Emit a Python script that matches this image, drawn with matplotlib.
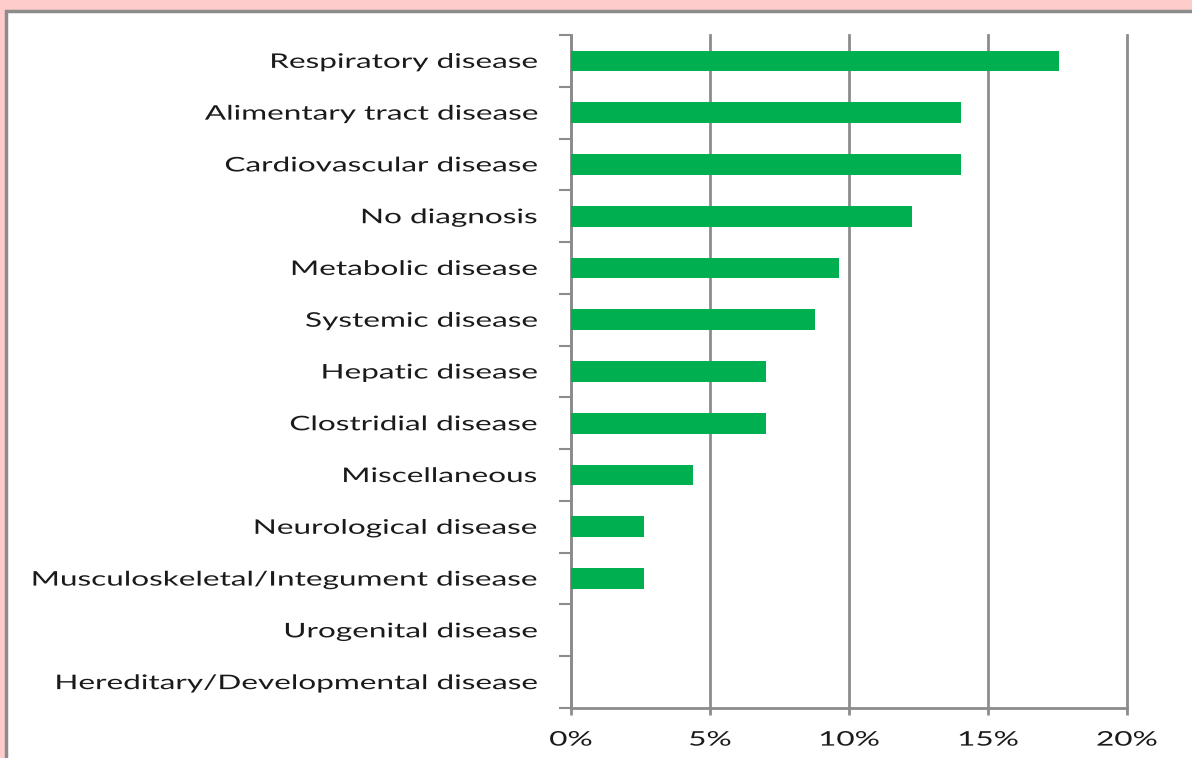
import numpy as np
import matplotlib.pyplot as plt
from matplotlib.patches import Rectangle
from matplotlib.ticker import FuncFormatter
from matplotlib.transforms import Affine2D
from matplotlib import patheffects

#-----
# Data
#-----
categories = ['Respiratory disease', 'Alimentary tract disease', 'Cardiovascular disease',
              'No diagnosis', 'Metabolic disease', 'Systemic disease', 'Hepatic disease',
              'Clostridial disease', 'Miscellaneous', 'Neurological disease',
              'Musculoskeletal/Integument disease', 'Urogenital disease',
              'Hereditary/Developmental disease']
percent = [17.54, 14.04, 14.04, 12.28, 9.65, 8.77, 7.02, 7.02, 4.39, 2.63, 2.63, 0.0, 0.0]
xticks = [0, 5, 10, 15, 20]

grey = '#8c8c8c'
green = '#00b050'


class HStretch(patheffects.AbstractPathEffect):
    '''
      Stretch text horizontally about a fixed x (pixels), the original
      labels look widened.
    '''
    def __init__(self, sx, x0):
        super().__init__()
        self.sx = sx
        self.x0 = x0

    def draw_path(self, renderer, gc, tpath, affine, rgbFace=None):
        a = affine + Affine2D().translate(-self.x0, 0).scale(self.sx, 1).translate(self.x0, 0)
        renderer.draw_path(gc, tpath, a, rgbFace)


plt.rcParams['font.family'] = ['Lato', 'DejaVu Sans']

fig = plt.figure(figsize=(11.92, 7.58), dpi=100, facecolor='#ffcccc')

# white panel with grey border (behind the axes)
fig.patches.append(Rectangle((6/1192, -0.01), 1.0, 1.01 - 11/758, transform=fig.transFigure,
                             facecolor='white', edgecolor=grey, linewidth=2.5, zorder=-10))

ax = fig.add_axes([571/1192, 1 - 708/758, (1127 - 571)/1192, (708 - 35)/758])
ax.set_facecolor('none')

y = np.arange(len(categories))
ax.barh(y, percent, height=0.4, color=green, zorder=3)

ax.set_xlim(0, 20)
ax.set_ylim(len(categories) - 0.5, -0.5)
ax.set_xticks(xticks)
ax.xaxis.set_major_formatter(FuncFormatter(lambda v, p: '%d%%' % v))
ax.set_yticks(y)
ax.set_yticklabels(categories)
ax.set_yticks(np.arange(len(categories) + 1) - 0.5, minor=True)

ax.grid(axis='x', color=grey, linewidth=2, zorder=1)
for gl in ax.xaxis.get_gridlines():
    gl.set_clip_on(False)
for side in ['top', 'right']:
    ax.spines[side].set_visible(False)
for side in ['left', 'bottom']:
    ax.spines[side].set_color(grey)
    ax.spines[side].set_linewidth(2)

ax.tick_params(axis='y', which='major', length=0, pad=24, labelsize=14.5, labelcolor='#1a1a1a')
ax.tick_params(axis='y', which='minor', length=9, width=1.5, color=grey)
ax.tick_params(axis='x', length=5, width=2, color=grey, pad=12, labelsize=14.5,
               labelcolor='#1a1a1a')

#------------------------------
# Widen the labels like the chart
#------------------------------
fig.canvas.draw()
r = fig.canvas.get_renderer()
longest = max(ax.get_yticklabels(), key=lambda t: t.get_window_extent(r).width)
sx = (538 - 31) / longest.get_window_extent(r).width
x_right = longest.get_window_extent(r).x1
for lab in ax.get_yticklabels():
    lab.set_path_effects([HStretch(sx, x_right)])
for lab in ax.get_xticklabels():
    ext = lab.get_window_extent(r)
    lab.set_path_effects([HStretch(sx, (ext.x0 + ext.x1) / 2)])

fig.savefig('out.png', dpi=100, facecolor=fig.get_facecolor())
